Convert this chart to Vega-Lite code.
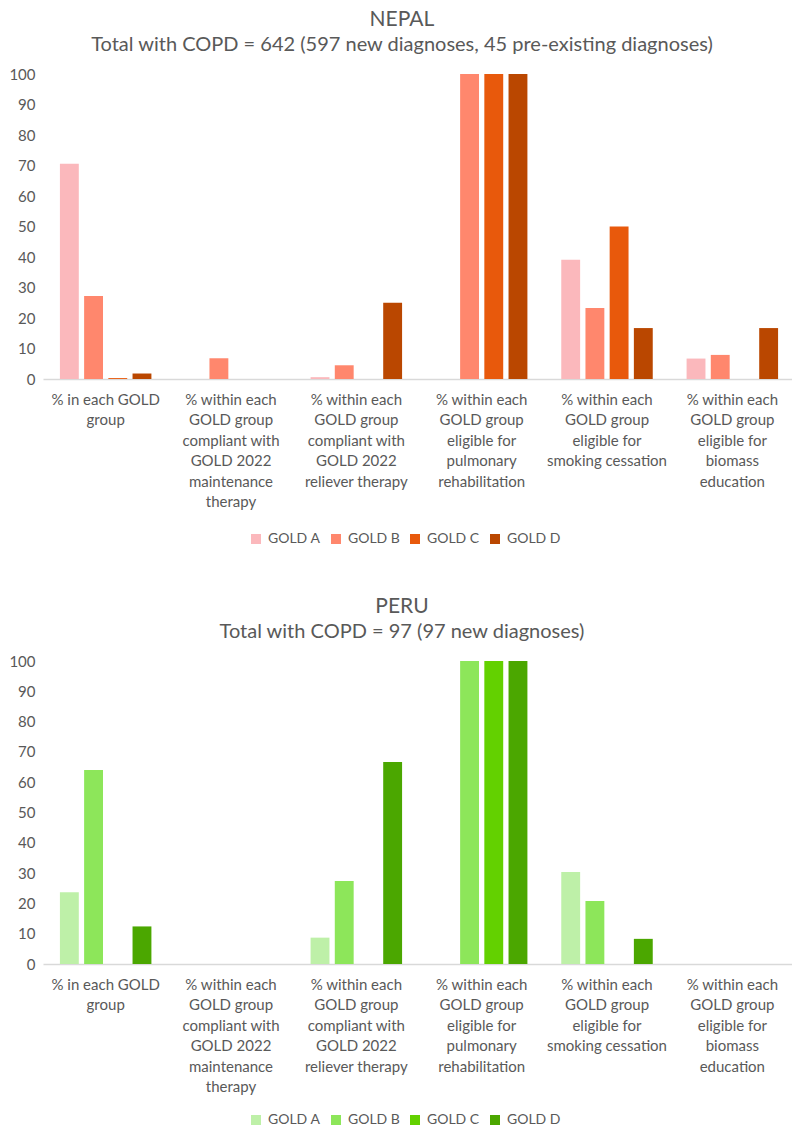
{
  "$schema": "https://vega.github.io/schema/vega-lite/v6.json",
  "padding": {"left": 8, "top": 9, "right": 0, "bottom": 0},
  "background": "white",
  "datasets": {
    "nepal": [
      {"measure": "% in each GOLD|group", "group": "GOLD A", "value": 70.6},
      {"measure": "% in each GOLD|group", "group": "GOLD B", "value": 27.2},
      {"measure": "% in each GOLD|group", "group": "GOLD C", "value": 0.3},
      {"measure": "% in each GOLD|group", "group": "GOLD D", "value": 1.8},
      {"measure": "% within each|GOLD group|compliant with|GOLD 2022|maintenance|therapy", "group": "GOLD A", "value": 0},
      {"measure": "% within each|GOLD group|compliant with|GOLD 2022|maintenance|therapy", "group": "GOLD B", "value": 6.8},
      {"measure": "% within each|GOLD group|compliant with|GOLD 2022|maintenance|therapy", "group": "GOLD C", "value": 0},
      {"measure": "% within each|GOLD group|compliant with|GOLD 2022|maintenance|therapy", "group": "GOLD D", "value": 0},
      {"measure": "% within each|GOLD group|compliant with|GOLD 2022|reliever therapy", "group": "GOLD A", "value": 0.6},
      {"measure": "% within each|GOLD group|compliant with|GOLD 2022|reliever therapy", "group": "GOLD B", "value": 4.5},
      {"measure": "% within each|GOLD group|compliant with|GOLD 2022|reliever therapy", "group": "GOLD C", "value": 0},
      {"measure": "% within each|GOLD group|compliant with|GOLD 2022|reliever therapy", "group": "GOLD D", "value": 25},
      {"measure": "% within each|GOLD group|eligible for|pulmonary|rehabilitation", "group": "GOLD A", "value": 0},
      {"measure": "% within each|GOLD group|eligible for|pulmonary|rehabilitation", "group": "GOLD B", "value": 100},
      {"measure": "% within each|GOLD group|eligible for|pulmonary|rehabilitation", "group": "GOLD C", "value": 100},
      {"measure": "% within each|GOLD group|eligible for|pulmonary|rehabilitation", "group": "GOLD D", "value": 100},
      {"measure": "% within each|GOLD group|eligible for|smoking cessation", "group": "GOLD A", "value": 39.1},
      {"measure": "% within each|GOLD group|eligible for|smoking cessation", "group": "GOLD B", "value": 23.3},
      {"measure": "% within each|GOLD group|eligible for|smoking cessation", "group": "GOLD C", "value": 50},
      {"measure": "% within each|GOLD group|eligible for|smoking cessation", "group": "GOLD D", "value": 16.7},
      {"measure": "% within each|GOLD group|eligible for|biomass|education", "group": "GOLD A", "value": 6.7},
      {"measure": "% within each|GOLD group|eligible for|biomass|education", "group": "GOLD B", "value": 7.9},
      {"measure": "% within each|GOLD group|eligible for|biomass|education", "group": "GOLD C", "value": 0},
      {"measure": "% within each|GOLD group|eligible for|biomass|education", "group": "GOLD D", "value": 16.7}
    ],
    "peru": [
      {"measure": "% in each GOLD|group", "group": "GOLD A", "value": 23.7},
      {"measure": "% in each GOLD|group", "group": "GOLD B", "value": 64.0},
      {"measure": "% in each GOLD|group", "group": "GOLD C", "value": 0},
      {"measure": "% in each GOLD|group", "group": "GOLD D", "value": 12.4},
      {"measure": "% within each|GOLD group|compliant with|GOLD 2022|maintenance|therapy", "group": "GOLD A", "value": 0},
      {"measure": "% within each|GOLD group|compliant with|GOLD 2022|maintenance|therapy", "group": "GOLD B", "value": 0},
      {"measure": "% within each|GOLD group|compliant with|GOLD 2022|maintenance|therapy", "group": "GOLD C", "value": 0},
      {"measure": "% within each|GOLD group|compliant with|GOLD 2022|maintenance|therapy", "group": "GOLD D", "value": 0},
      {"measure": "% within each|GOLD group|compliant with|GOLD 2022|reliever therapy", "group": "GOLD A", "value": 8.7},
      {"measure": "% within each|GOLD group|compliant with|GOLD 2022|reliever therapy", "group": "GOLD B", "value": 27.4},
      {"measure": "% within each|GOLD group|compliant with|GOLD 2022|reliever therapy", "group": "GOLD C", "value": 0},
      {"measure": "% within each|GOLD group|compliant with|GOLD 2022|reliever therapy", "group": "GOLD D", "value": 66.7},
      {"measure": "% within each|GOLD group|eligible for|pulmonary|rehabilitation", "group": "GOLD A", "value": 0},
      {"measure": "% within each|GOLD group|eligible for|pulmonary|rehabilitation", "group": "GOLD B", "value": 100},
      {"measure": "% within each|GOLD group|eligible for|pulmonary|rehabilitation", "group": "GOLD C", "value": 100},
      {"measure": "% within each|GOLD group|eligible for|pulmonary|rehabilitation", "group": "GOLD D", "value": 100},
      {"measure": "% within each|GOLD group|eligible for|smoking cessation", "group": "GOLD A", "value": 30.4},
      {"measure": "% within each|GOLD group|eligible for|smoking cessation", "group": "GOLD B", "value": 20.8},
      {"measure": "% within each|GOLD group|eligible for|smoking cessation", "group": "GOLD C", "value": 0},
      {"measure": "% within each|GOLD group|eligible for|smoking cessation", "group": "GOLD D", "value": 8.3},
      {"measure": "% within each|GOLD group|eligible for|biomass|education", "group": "GOLD A", "value": 0},
      {"measure": "% within each|GOLD group|eligible for|biomass|education", "group": "GOLD B", "value": 0},
      {"measure": "% within each|GOLD group|eligible for|biomass|education", "group": "GOLD C", "value": 0},
      {"measure": "% within each|GOLD group|eligible for|biomass|education", "group": "GOLD D", "value": 0}
    ]
  },
  "config": {
    "font": "Lato",
    "view": {"stroke": null},
    "axis": {"labelFont": "Lato", "labelColor": "#595959", "labelFontSize": 15, "grid": false, "ticks": false},
    "legend": {"labelFont": "Lato", "labelColor": "#595959", "labelFontSize": 14},
    "title": {"font": "Lato", "color": "#595959", "subtitleFont": "Lato", "subtitleColor": "#595959", "fontWeight": "normal", "fontSize": 21, "subtitleFontSize": 20, "subtitlePadding": 5, "anchor": "middle", "frame": "bounds", "offset": 12}
  },
  "resolve": {"scale": {"color": "independent", "x": "independent", "y": "independent", "xOffset": "independent"}, "legend": {"color": "independent"}},
  "spacing": 50,
  "vconcat": [
    {
      "title": {"text": "NEPAL", "subtitle": "Total with COPD = 642 (597 new diagnoses, 45 pre-existing diagnoses)"},
      "width": 752,
      "height": 305,
      "data": {"name": "nepal"},
      "mark": {"type": "bar"},
      "encoding": {
        "x": {"field": "measure", "type": "nominal", "sort": null, "title": null,
              "scale": {"paddingInner": 0.27, "paddingOuter": 0.135},
              "axis": {"labelAngle": 0, "labelExpr": "split(datum.label, '|')", "labelLineHeight": 20.5, "labelPadding": 13, "domainColor": "#D9D9D9", "domainWidth": 1.5}},
        "xOffset": {"field": "group", "type": "nominal", "scale": {"paddingInner": 0.22}},
        "y": {"field": "value", "type": "quantitative", "title": null,
              "scale": {"domain": [0, 100]},
              "axis": {"values": [0,10,20,30,40,50,60,70,80,90,100], "domain": false, "labelPadding": 8}},
        "color": {"field": "group", "type": "nominal", "title": null,
                  "scale": {"domain": ["GOLD A", "GOLD B", "GOLD C", "GOLD D"], "range": ["#FBB8BC", "#FF876D", "#E8590C", "#BA4700"]},
                  "legend": {"orient": "none", "direction": "horizontal", "legendX": 206, "legendY": 458, "symbolType": "square", "symbolSize": 100, "symbolStrokeWidth": 0, "columnPadding": 8, "labelOffset": 5}}
      }
    },
    {
      "title": {"text": "PERU", "subtitle": "Total with COPD = 97 (97 new diagnoses)"},
      "width": 752,
      "height": 303,
      "data": {"name": "peru"},
      "mark": {"type": "bar"},
      "encoding": {
        "x": {"field": "measure", "type": "nominal", "sort": null, "title": null,
              "scale": {"paddingInner": 0.27, "paddingOuter": 0.135},
              "axis": {"labelAngle": 0, "labelExpr": "split(datum.label, '|')", "labelLineHeight": 20.5, "labelPadding": 13, "domainColor": "#D9D9D9", "domainWidth": 1.5}},
        "xOffset": {"field": "group", "type": "nominal", "scale": {"paddingInner": 0.22}},
        "y": {"field": "value", "type": "quantitative", "title": null,
              "scale": {"domain": [0, 100]},
              "axis": {"values": [0,10,20,30,40,50,60,70,80,90,100], "domain": false, "labelPadding": 8}},
        "color": {"field": "group", "type": "nominal", "title": null,
                  "scale": {"domain": ["GOLD A", "GOLD B", "GOLD C", "GOLD D"], "range": ["#BEF0A8", "#8DE65A", "#63D100", "#4BA700"]},
                  "legend": {"orient": "none", "direction": "horizontal", "legendX": 206, "legendY": 452, "symbolType": "square", "symbolSize": 100, "symbolStrokeWidth": 0, "columnPadding": 8, "labelOffset": 5}}
      }
    }
  ]
}
